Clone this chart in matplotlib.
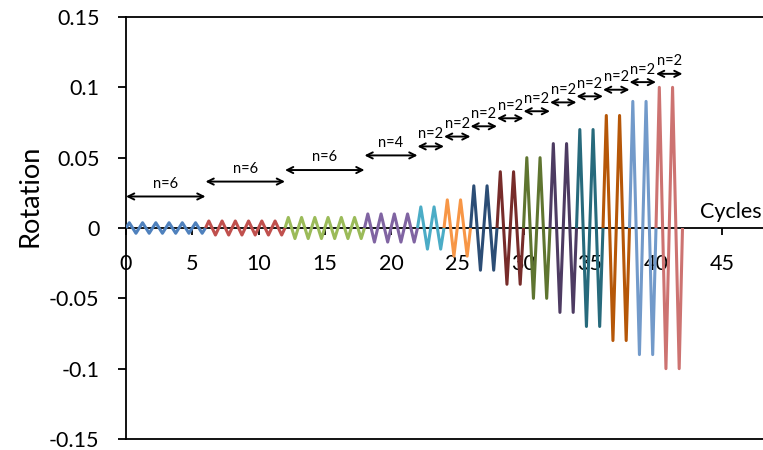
import matplotlib
matplotlib.use("Agg")
import matplotlib.pyplot as plt

plt.rcParams["font.family"] = ["Lato", "DejaVu Sans"]

# loading protocol: amplitude and number of cycles for each step
amplitudes = [0.00375, 0.005, 0.0075, 0.01, 0.015, 0.02, 0.03,
              0.04, 0.05, 0.06, 0.07, 0.08, 0.09, 0.1]
n_cycles = [6, 6, 6, 4, 2, 2, 2, 2, 2, 2, 2, 2, 2, 2]

# height of the "n=" bracket above each step
bracket_y = [0.0224, 0.033, 0.0412, 0.0516, 0.058, 0.065, 0.0723,
             0.078, 0.083, 0.0893, 0.0936, 0.0983, 0.1037, 0.1096]

colors = ["#4F81BD", "#C0504D", "#9BBB59", "#8064A2", "#4BACC6", "#F79646",
          "#2C4D75", "#772C2A", "#5F7530", "#4D3B62", "#276A7C", "#B65708",
          "#729ACA", "#CD7371"]

x_ticks = [0, 5, 10, 15, 20, 25, 30, 35, 40, 45]
y_ticks = [-0.15, -0.1, -0.05, 0, 0.05, 0.1, 0.15]
y_tick_labels = ["-0.15", "-0.1", "-0.05", "0", "0.05", "0.1", "0.15"]

# one cycle: zero, positive peak, zero, negative peak, zero
cycle_shape = [0, 1, 0, -1, 0]
cycle_pos = [0, 0.25, 0.5, 0.75, 1.0]


def step_signal(start, amp, n):
    xs, ys = [], []
    for c in range(n):
        for k, (p, s) in enumerate(zip(cycle_pos, cycle_shape)):
            if c > 0 and k == 0:
                continue
            xs.append(start + c + p)
            ys.append(s * amp)
    return xs, ys


fig = plt.figure(figsize=(7.63, 4.5), dpi=100)
ax = fig.add_axes([126 / 763, 11 / 450, 50 * 13.25 / 763, 422 / 450])

start = 0
for i, (amp, n) in enumerate(zip(amplitudes, n_cycles)):
    xs, ys = step_signal(start, amp, n)
    ax.plot(xs, ys, color=colors[i], lw=2.2, solid_joinstyle="round",
            solid_capstyle="butt", zorder=3)
    ax.annotate("", xy=(start + n, bracket_y[i]), xytext=(start, bracket_y[i]),
                arrowprops=dict(arrowstyle="<->", color="black", lw=1.4,
                                shrinkA=0, shrinkB=0, mutation_scale=11))
    ax.annotate(f"n={n}", xy=(start + n / 2, bracket_y[i]),
                xytext=(0, 4), textcoords="offset points",
                ha="center", va="bottom", fontsize=10.5)
    start += n

ax.set_xlim(0, 50)
ax.set_ylim(-0.15, 0.15)

ax.spines["right"].set_visible(False)
ax.spines["bottom"].set_position(("data", 0))
for side in ["left", "bottom", "top"]:
    ax.spines[side].set_linewidth(1.3)
    ax.spines[side].set_zorder(2)
ax.axhline(-0.15, color="black", lw=1.3, clip_on=False)

ax.set_xticks(x_ticks)
ax.set_xticklabels([str(t) for t in x_ticks])
ax.set_yticks(y_ticks)
ax.set_yticklabels(y_tick_labels)
ax.tick_params(axis="x", direction="out", length=5, width=1.3,
               pad=14, labelsize=15.5)
ax.tick_params(axis="y", direction="out", length=6, width=1.3,
               pad=13, labelsize=15.5)

ax.text(43.3, 0.004, "Cycles", ha="left", va="bottom", fontsize=15.5)
fig.text(30 / 763, 1 - 196 / 450, "Rotation", rotation=90,
         ha="center", va="center", fontsize=19.5)

fig.savefig("out.png", dpi=100)
